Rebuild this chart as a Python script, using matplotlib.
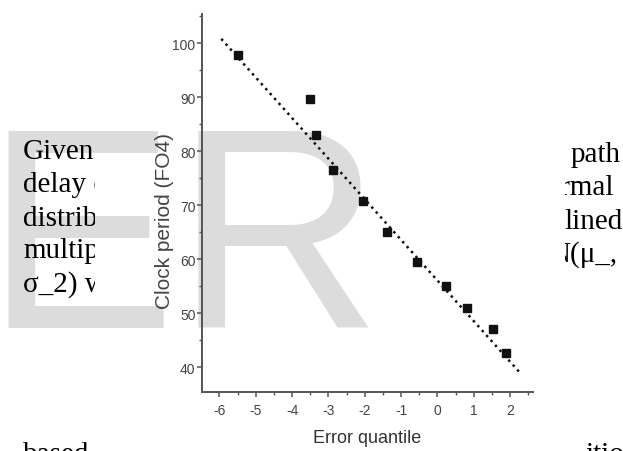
import matplotlib
matplotlib.use("Agg")
import matplotlib.pyplot as plt
from matplotlib.patches import Rectangle
from matplotlib.ticker import MultipleLocator

W, H = 623, 452
DPI = 100

# data
error_quantile = [-5.50, -3.52, -3.35, -2.87, -2.06, -1.38, -0.56, 0.23, 0.81, 1.52, 1.88]
clock_period   = [97.9, 89.7, 83.0, 76.6, 70.7, 65.1, 59.4, 55.0, 51.0, 47.1, 42.6]
fit_x = [-5.95, 2.28]
fit_y = [100.8, 38.9]

x_ticks = [-6, -5, -4, -3, -2, -1, 0, 1, 2]
y_ticks = [40, 50, 60, 70, 80, 90, 100]

# page text around the pasted figure
left_lines  = ["Given", "delay of", "distribution", "multiple", "σ_2) with"]
right_lines = ["path", "normal", "lined", "N(μ_,"]
bottom_left, bottom_right = "based", "ition"

plt.rcParams["axes.unicode_minus"] = False

fig = plt.figure(figsize=(W / DPI, H / DPI), dpi=DPI)
fig.patch.set_facecolor("white")

def fx(px):
    return px / W

def fy(py):
    return 1 - py / H

# watermark, under everything
fig.text(fx(-15), fy(328), "ER", family=["Liberation Sans", "DejaVu Sans"], fontsize=206,
         color="#dcdcdc", ha="left", va="baseline", zorder=1)

# the pasted chart hides the page text between x=95 and x=565
clip_left = Rectangle((0, 0), fx(95), 1, transform=fig.transFigure)
clip_right = Rectangle((fx(565), 0), 1 - fx(565), 1, transform=fig.transFigure)

serif = dict(family=["Liberation Serif", "DejaVu Serif"], fontsize=21, color="black",
             va="baseline", zorder=2)
left_base  = [159, 192, 226, 258, 292]
right_base = [162, 195, 229, 262]
right_end  = [621, 614, 623, 617]
for txt, yb in zip(left_lines, left_base):
    t = fig.text(fx(23), fy(yb), txt, ha="left", **serif)
    t.set_clip_path(clip_left)
for txt, yb, xe in zip(right_lines, right_base, right_end):
    t = fig.text(fx(xe), fy(yb), txt, ha="right", **serif)
    t.set_clip_path(clip_right)
fig.text(fx(23), fy(462), bottom_left, ha="left", **serif).set_clip_path(clip_left)
fig.text(fx(585), fy(462), bottom_right, ha="left", **serif).set_clip_path(clip_right)

ax = fig.add_axes([fx(202), 1 - 393 / H, (533 - 202) / W, (393 - 15) / H], zorder=10)
ax.set_facecolor("none")

ax.plot(fit_x, fit_y, linestyle=":", color="#111111", linewidth=1.8)
ax.plot(error_quantile, clock_period, linestyle="none", marker="s", markersize=5.5,
        color="#111111")

ax.set_xlim(-6.48, 2.63)
ax.set_ylim(35.4, 105.4)
ax.set_xticks(x_ticks)
ax.set_yticks(y_ticks)
ax.xaxis.set_minor_locator(MultipleLocator(0.5))
ax.yaxis.set_minor_locator(MultipleLocator(5))

for side in ["top", "right"]:
    ax.spines[side].set_visible(False)
for side in ["left", "bottom"]:
    ax.spines[side].set_color("#555555")
    ax.spines[side].set_linewidth(1.4)

narrow = ["Liberation Sans Narrow", "Liberation Sans"]
ax.tick_params(which="major", direction="out", length=3.6, width=1.1, color="#555555",
               labelcolor="#444444", labelsize=10)
ax.tick_params(which="minor", direction="out", length=2.2, width=1.0, color="#555555")
ax.tick_params(axis="x", which="major", pad=4.3)
ax.tick_params(axis="y", which="major", pad=1.0)
for lab in ax.get_xticklabels() + ax.get_yticklabels():
    lab.set_family(narrow)

ax.set_xlabel("Error quantile", family=narrow, fontsize=13, color="#333333")
ax.set_ylabel("Clock period (FO4)", family=["Liberation Sans", "DejaVu Sans"], fontsize=15,
              color="#444444")
ax.xaxis.set_label_coords(0.5, -0.098)
ax.yaxis.set_label_coords(-0.085, 0.454)

fig.savefig("out.png", dpi=DPI)
